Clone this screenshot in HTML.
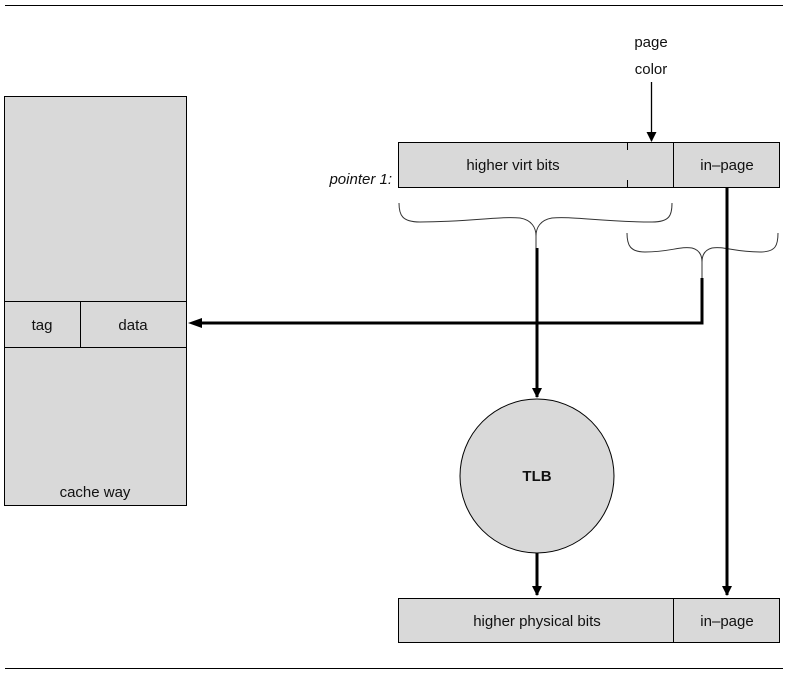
<!DOCTYPE html>
<html><head><meta charset="utf-8"><style>
html,body{margin:0;padding:0;background:#fff;}
svg{display:block;}
text{font-family:"Liberation Sans",sans-serif;font-size:15px;fill:#111;}
</style></head><body>
<svg width="788" height="675" viewBox="0 0 788 675" xmlns="http://www.w3.org/2000/svg">
<defs>
<marker id="ah" markerWidth="10" markerHeight="10" refX="9" refY="5" orient="auto" markerUnits="userSpaceOnUse">
<path d="M0,0 L10,5 L0,10 z" fill="#000"/>
</marker>
</defs>
<line x1="5" y1="5.5" x2="783" y2="5.5" stroke="#000" stroke-width="1"/>
<line x1="5" y1="668.5" x2="783" y2="668.5" stroke="#000" stroke-width="1"/>

<!-- cache way -->
<rect x="4.5" y="96.5" width="182" height="409" fill="#d9d9d9" stroke="#000" stroke-width="1"/>
<line x1="4.5" y1="301.5" x2="186.5" y2="301.5" stroke="#000"/>
<line x1="4.5" y1="347.5" x2="186.5" y2="347.5" stroke="#000"/>
<line x1="80.5" y1="301.5" x2="80.5" y2="347.5" stroke="#000"/>
<text x="42" y="330" text-anchor="middle">tag</text>
<text x="133" y="330" text-anchor="middle">data</text>
<text x="95" y="497" text-anchor="middle">cache way</text>

<!-- page color -->
<text x="651" y="47" text-anchor="middle">page</text>
<text x="651" y="74" text-anchor="middle">color</text>
<line x1="651.5" y1="82" x2="651.5" y2="141" stroke="#000" stroke-width="1.3" marker-end="url(#ah)"/>

<!-- top box -->
<rect x="398.5" y="142.5" width="381" height="45" fill="#d9d9d9" stroke="#000"/>
<line x1="673.5" y1="142.5" x2="673.5" y2="187.5" stroke="#000"/>
<line x1="627.5" y1="142.5" x2="627.5" y2="150" stroke="#000"/>
<line x1="627.5" y1="180" x2="627.5" y2="187.5" stroke="#000"/>
<text x="513" y="170" text-anchor="middle">higher virt bits</text>
<text x="727" y="170" text-anchor="middle">in–page</text>
<text x="392" y="184" text-anchor="end" font-style="italic">pointer 1:</text>

<!-- braces -->
<path d="M399,203 C399,215 402,222 420,222 C470,222 500,216 520,218 C532,220 536,228 536,236 C536,228 540,220 552,218 C572,216 602,222 652,222 C670,222 672,215 672,203" fill="none" stroke="#333" stroke-width="1"/>
<line x1="536" y1="236" x2="536" y2="248" stroke="#333" stroke-width="1"/>
<path d="M627,233 C627,245 630,252 645,252 C670,252 680,246 692,248 C700,250 702,256 702,262 C702,256 704,250 712,248 C724,246 734,252 760,252 C776,252 778,245 778,233" fill="none" stroke="#333" stroke-width="1"/>
<line x1="702" y1="262" x2="702" y2="278" stroke="#333" stroke-width="1"/>

<!-- thick lines -->
<line x1="537" y1="248" x2="537" y2="397" stroke="#000" stroke-width="3" marker-end="url(#ah)"/>
<polyline points="702,278 702,323 198,323" fill="none" stroke="#000" stroke-width="3"/>
<path d="M188,323 L202,318 L202,328 z" fill="#000"/>
<line x1="727" y1="187" x2="727" y2="595" stroke="#000" stroke-width="3" marker-end="url(#ah)"/>

<!-- TLB -->
<circle cx="537" cy="476" r="77" fill="#d9d9d9" stroke="#000"/>
<text x="537" y="481" text-anchor="middle" font-weight="bold">TLB</text>
<line x1="537" y1="553" x2="537" y2="595" stroke="#000" stroke-width="3" marker-end="url(#ah)"/>

<!-- bottom box -->
<rect x="398.5" y="598.5" width="381" height="44" fill="#d9d9d9" stroke="#000"/>
<line x1="673.5" y1="598.5" x2="673.5" y2="642.5" stroke="#000"/>
<text x="537" y="626" text-anchor="middle">higher physical bits</text>
<text x="727" y="626" text-anchor="middle">in–page</text>
</svg>
</body></html>
